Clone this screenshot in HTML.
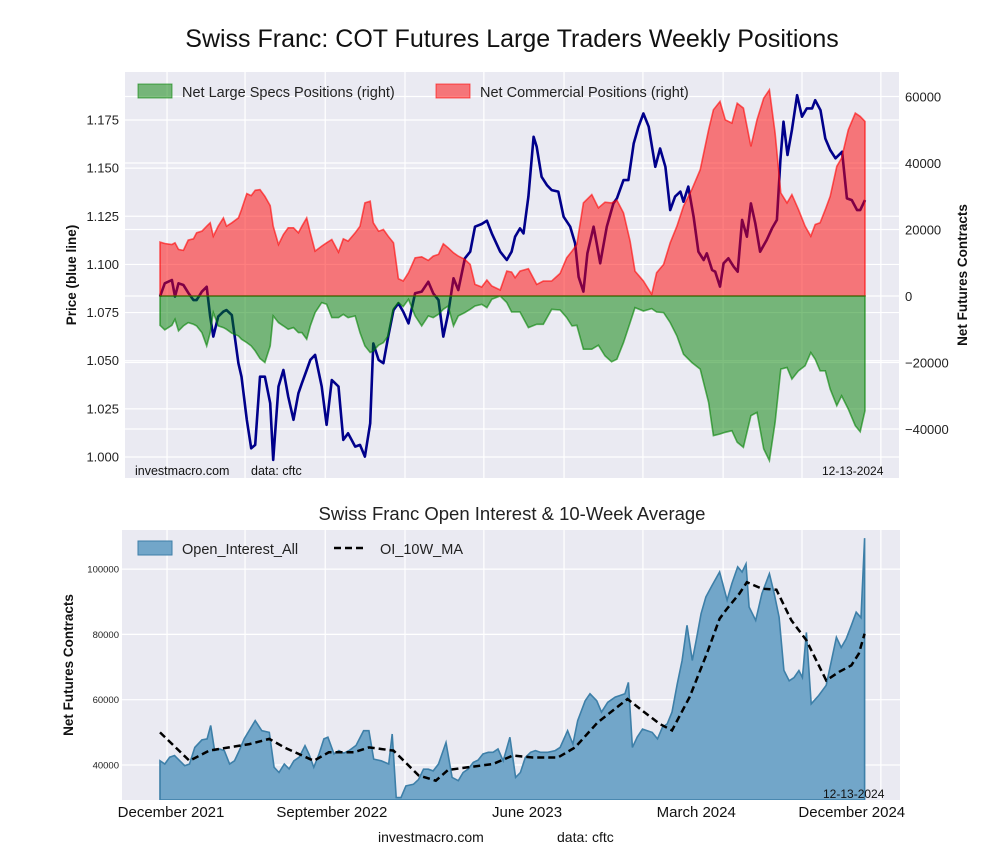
<!DOCTYPE html>
<html><head><meta charset="utf-8"><style>
body{margin:0;background:#fff;}
svg text{font-family:"Liberation Sans",Arial,sans-serif;}
</style></head><body>
<svg id="chart" width="1000" height="860" viewBox="0 0 1000 860" xmlns="http://www.w3.org/2000/svg">
<defs>
<clipPath id="clipTop"><rect x="125" y="72" width="774" height="406"/></clipPath>
<clipPath id="clipBot"><rect x="122" y="530" width="778" height="270"/></clipPath>
</defs>
<text x="512" y="47" font-size="25" text-anchor="middle" fill="#111">Swiss Franc: COT Futures Large Traders Weekly Positions</text>
<rect x="125" y="72" width="774" height="406" fill="#eaeaf2"/>
<g id="topGrid"></g>
<g id="topSeries" clip-path="url(#clipTop)"></g>
<g id="topAxes"></g>
<g>
<rect x="138" y="84" width="34" height="14" fill="rgba(0,128,0,0.5)" stroke="rgba(0,128,0,0.6)"/>
<text x="182" y="97" font-size="14.5" fill="#222">Net Large Specs Positions (right)</text>
<rect x="436" y="84" width="34" height="14" fill="rgba(255,0,0,0.5)" stroke="rgba(255,0,0,0.6)"/>
<text x="480" y="97" font-size="14.5" fill="#222">Net Commercial Positions (right)</text>
</g>
<text x="135" y="475" font-size="12.5" fill="#111">investmacro.com</text>
<text x="251" y="475" font-size="12.5" fill="#111">data: cftc</text>
<text x="822" y="475" font-size="12" fill="#111">12-13-2024</text>
<text transform="translate(76,275) rotate(-90)" font-size="13.5" font-weight="bold" text-anchor="middle" fill="#111">Price (blue line)</text>
<text transform="translate(967,275) rotate(-90)" font-size="13.5" font-weight="bold" text-anchor="middle" fill="#111">Net Futures Contracts</text>

<text x="512" y="520" font-size="18.5" text-anchor="middle" fill="#222">Swiss Franc Open Interest &amp; 10-Week Average</text>
<rect x="122" y="530" width="778" height="270" fill="#eaeaf2"/>
<g id="botGrid"></g>
<g id="botSeries" clip-path="url(#clipBot)"></g>
<g id="botAxes"></g>
<g>
<rect x="138" y="541" width="34" height="14" fill="#72a6c9" stroke="#3d7fa8"/>
<text x="182" y="554" font-size="14.5" fill="#222">Open_Interest_All</text>
<line x1="334" y1="548" x2="366" y2="548" stroke="#000" stroke-width="2.5" stroke-dasharray="7,4"/>
<text x="380" y="554" font-size="14.5" fill="#222">OI_10W_MA</text>
</g>
<text x="823" y="798" font-size="12" fill="#111">12-13-2024</text>
<text transform="translate(73,665) rotate(-90)" font-size="13.5" font-weight="bold" text-anchor="middle" fill="#111">Net Futures Contracts</text>
<text x="378" y="842" font-size="14" fill="#111">investmacro.com</text>
<text x="557" y="842" font-size="14" fill="#111">data: cftc</text>
</svg>
<script>
// ---- data (weeks since mid-Nov 2021) ----
const posWeeks=[0,1.1,2.7,3.4,4.2,5.3,6.4,7.6,8.3,9.5,10.6,11.4,12.1,13.2,14.4,15.1,16.3,17.8,18.5,19.7,20.7,21.6,22.7,23.8,25.0,25.7,26.9,28.0,29.1,30.3,31.4,32.2,33.3,34.1,35.2,36.7,37.8,39.0,40.5,41.6,42.7,44.3,45.4,46.5,47.7,48.4,49.6,50.7,51.8,53.0,54.1,55.2,56.4,57.9,59.4,60.9,62.0,63.2,64.3,65.4,66.6,67.7,69.2,70.4,71.5,73.0,74.2,75.3,77.2,
78.7,79.8,80.6,81.7,83.6,85.5,87.0,88.9,90.8,92.3,93.5,94.6,96.1,98.0,99.5,101.0,102.5,103.7,105.2,106.7,107.8,109.7,111.6,112.7,114.3,115.8,117.3,118.8,120.7,122.6,124.5,125.6,127.1,128.3,129.8,131.0,132.4,134.1,135.5,137.0,138.3,139.6,140.9,142.3,143.4,144.9,146.4,147.7,148.7,149.8,151.0,152.1,153.6,154.7,156.2,157.8,158.9,160];
const commercialK=[16.2,15.8,15.5,16.0,14.0,13.7,16.8,17.2,19.0,19.5,21.0,22.0,18.0,21.0,23.5,21.0,22.0,23.5,26.0,30.8,30.2,31.8,32.0,30.0,27.2,21.0,15.5,18.5,20.5,20.5,19.0,21.0,23.5,19.0,13.5,15.0,16.0,17.0,13.2,17.2,16.5,19.0,21.0,28.0,28.5,22.0,19.5,20.0,18.0,16.0,5.2,4.5,7.0,11.5,11.8,10.7,12.0,12.5,15.7,14.5,13.0,12.0,11.0,9.5,3.5,2.7,4.8,3.0,1.8,
7.5,7.2,5.5,7.5,8.2,3.5,4.5,4.5,6.8,11.5,13.5,15.5,28.0,30.5,26.5,28.2,28.0,28.8,25.0,16.5,7.5,4.5,0.5,7.0,9.5,16.0,21.0,27.0,32.0,38.0,50.0,56.0,58.5,53.0,52.0,58.0,56.5,45.0,53.0,59.5,62.0,49.0,31.0,28.0,30.5,26.0,21.0,18.0,21.5,22.0,26.0,30.0,39.0,41.5,50.0,55.0,54.0,52.5];
const specsK=[-8.8,-10.2,-8.8,-7.0,-10.5,-9.0,-8.0,-8.5,-9.0,-11.0,-15.0,-11.0,-5.0,-9.0,-9.5,-10.0,-11.2,-12.0,-13.0,-14.0,-15.0,-16.5,-18.8,-20.0,-15.0,-6.0,-8.0,-9.0,-10.0,-9.5,-11.0,-11.0,-13.0,-9.0,-5.0,-2.0,-2.5,-6.5,-6.5,-5.5,-6.5,-6.0,-11.0,-15.0,-17.0,-16.5,-14.8,-14.0,-12.0,-3.8,-2.0,-3.2,-1.0,-6.0,-9.0,-6.0,-6.5,-5.5,-4.0,-3.0,-9.0,-6.0,-5.0,-4.0,-3.0,-2.5,-3.5,-1.0,0.0,
-2.0,-4.8,-4.8,-4.8,-9.5,-8.5,-8.5,-4.0,-4.2,-6.5,-9.0,-8.8,-16.0,-16.0,-14.8,-18.0,-19.8,-19.0,-14.0,-8.0,-3.5,-4.5,-3.8,-4.8,-5.0,-8.0,-12.0,-17.5,-20.0,-22.0,-32.0,-42.0,-41.5,-41.0,-40.5,-44.0,-45.5,-36.0,-35.0,-46.0,-49.5,-38.0,-22.0,-21.5,-25.0,-22.5,-21.0,-17.0,-19.0,-22.5,-22.5,-28.0,-33.0,-30.0,-34.0,-39.0,-40.8,-34.5];
const priceWeeks=posWeeks.slice(0,69).concat([78.7,79.8,80.6,81.7,82.5,83.6,84.8,85.5,86.6,87.8,88.9,90.4,91.6,93.1,94.2,95.0,96.1,97.0,98.4,99.1,99.9,101.4,102.9,103.7,105.2,106.3,107.5,108.6,109.7,110.9,112.4,113.5,114.7,115.8,116.9,118.1,118.8,119.9,121.1,122.2,123.4,124.1,125.3,126.0,127.1,127.9,129.0,130.2,131.1,132.1,133.2,134.1,135.1,136.2,137.7,138.9,140.0,140.8,141.5,142.4,143.4,144.6,145.7,146.8,148.0,148.7,149.9,151.0,152.1,153.3,154.8,155.9,157.0,158.2,158.9,160]);
const price=[1.0833,1.0902,1.0919,1.0833,1.0902,1.0893,1.0853,1.0815,1.0815,1.0859,1.0884,1.0729,1.0625,1.0729,1.0755,1.0763,1.0737,1.0487,1.0417,1.0193,1.0045,1.0063,1.0417,1.0417,1.0279,0.9985,1.0366,1.0452,1.0314,1.0193,1.0331,1.0383,1.0452,1.0504,1.0530,1.0366,1.0167,1.0400,1.0366,1.0089,1.0123,1.0054,1.0063,1.0002,1.0175,1.0590,1.0504,1.0487,1.0625,1.0763,1.0798,1.0755,1.0694,1.0850,1.0859,1.0910,1.0850,1.0815,1.0625,1.0746,1.0928,1.0867,1.1032,1.1066,1.1196,1.1210,1.1227,1.1161,1.1066,
1.1023,1.1066,1.1144,1.1187,1.1161,1.1352,1.1663,1.1611,1.1455,1.1412,1.1386,1.1378,1.1248,1.1196,1.1109,1.0936,1.0859,1.1058,1.1196,1.1109,1.1006,1.1196,1.1317,1.1343,1.1438,1.1438,1.1628,1.1715,1.1784,1.1715,1.1507,1.1602,1.1507,1.1282,1.1352,1.1378,1.1326,1.1404,1.1248,1.1066,1.1023,1.1058,1.0971,1.0962,1.0885,1.1006,1.1032,1.0988,1.0962,1.1231,1.1144,1.1317,1.1213,1.1066,1.1127,1.1187,1.1231,1.1542,1.1741,1.1568,1.1698,1.1879,1.1767,1.1810,1.1810,1.1853,1.1801,1.1654,1.1594,1.1551,1.1585,1.1343,1.1334,1.1282,1.1282,1.1334];
const oiWeeks=[0,1.1,2.2,3.3,4.5,5.6,6.7,7.9,9.5,10.7,11.5,12.4,13.5,14.6,15.8,16.9,18.0,19.1,21.6,23.1,24.8,25.9,27.0,28.2,29.3,30.4,31.6,32.9,33.8,34.9,36.1,37.2,38.1,39.5,40.6,41.7,42.9,44.5,46.2,47.4,48.5,50.2,51.9,52.7,53.6,54.7,55.8,57.5,58.7,59.8,60.9,62.0,63.2,64.9,66.3,67.7,68.8,69.9,71.1,72.2,73.3,74.5,75.6,76.7,77.9,79.4,80.7,81.8,82.9,84.1,85.2,86.3,88.0,89.7,90.8,92.5,93.7,94.8,96.5,97.6,99.1,100.2,101.6,103.3,104.4,105.5,106.3,107.2,108.3,109.5,110.6,111.7,112.9,114.0,115.1,116.2,117.4,118.5,119.6,120.8,121.7,122.8,123.9,125.3,127.0,128.7,129.8,131.1,132.1,133.0,133.7,135.2,136.6,138.3,139.4,140.5,141.6,142.8,143.9,145.0,145.8,146.7,147.8,149.5,151.2,153.5,154.6,155.7,156.9,158.0,159.1,159.9];
const openInterestK=[41.3,40.3,42.4,42.9,41.3,39.8,40.3,45.4,47.7,48.0,52.1,44.4,44.9,44.4,40.3,41.3,44.4,48.0,53.6,50.5,50.0,39.3,37.7,40.3,38.8,41.3,42.4,45.9,43.4,39.3,43.4,48.0,48.5,43.4,44.4,43.6,44.4,46.0,50.5,50.5,41.8,41.3,40.3,49.5,30.0,30.0,33.6,34.1,35.6,38.7,38.7,38.2,40.3,46.9,36.2,35.2,37.7,38.7,40.8,41.5,43.4,43.9,43.9,44.9,41.3,48.5,36.2,37.7,42.3,43.9,44.4,43.9,43.9,44.4,45.4,50.5,46.4,53.6,59.7,61.8,59.7,56.2,59.2,60.8,61.3,61.8,65.3,45.4,48.5,51.0,50.5,50.0,48.0,51.5,52.6,56.2,64.9,72.0,82.8,72.0,78.2,86.4,91.5,95.0,99.1,90.5,95.6,100.7,99.1,101.6,88.4,84.3,92.5,98.6,92.5,85.3,69.0,65.8,66.8,68.9,66.8,80.6,58.7,61.3,64.4,79.1,76.0,78.6,82.7,86.8,85.1,109.5];
const maWeeks=[0,6.7,11.2,20.3,24.8,28.2,34.9,38.3,44.0,47.4,53.0,58.7,62.6,65.4,69.9,75.6,80.1,84.6,90.3,94.2,99.3,106.1,109.5,113.4,116.2,120.2,124.1,127.0,128.7,131.5,133.2,136.6,139.9,143.3,146.7,151.2,154.1,156.9,158.6,159.9];
const ma10K=[50.0,41.3,44.4,46.4,48.0,45.4,41.3,43.9,43.9,45.4,44.4,36.8,35.2,38.5,39.3,40.3,42.9,42.3,42.3,45.4,53.0,60.2,56.6,52.6,50.6,60.8,74.1,84.8,87.9,92.5,96.0,94.0,93.7,84.3,78.2,65.9,68.5,70.5,74.1,80.2];
const priceTicks=[1.000,1.025,1.050,1.075,1.100,1.125,1.150,1.175];
const posTicks=[-40000,-20000,0,20000,40000,60000];
const oiTicks=[40000,60000,80000,100000];
const xTickLabels=["December 2021","September 2022","June 2023","March 2024","December 2024"];
const xTickWeeks=[2.5,39,83.3,121.7,157];
const gridWeeks=[1.6,19.3,37.5,55.6,73.5,91.7,109.6,127.8,145.7,163.6];

// ---- scales ----
const xS=w=>160+w*705/160;
const yP=p=>457-(p-1.0)/0.175*337;
const yR=v=>296-v/20000*66.5;
const yB=v=>765-(v-40000)/20000*65.3;
const NS="http://www.w3.org/2000/svg";
function mk(tag,attrs,parent){const e=document.createElementNS(NS,tag);for(const k in attrs)e.setAttribute(k,attrs[k]);parent.appendChild(e);return e;}
const topGrid=document.getElementById('topGrid'),topSeries=document.getElementById('topSeries'),topAxes=document.getElementById('topAxes');
const botGrid=document.getElementById('botGrid'),botSeries=document.getElementById('botSeries'),botAxes=document.getElementById('botAxes');

gridWeeks.forEach(w=>{const x=xS(w);
 let l=mk('line',{x1:x,x2:x,y1:72,y2:478,stroke:'#fff','stroke-width':1.2},topGrid);
 
 
 let l2=mk('line',{x1:x,x2:x,y1:530,y2:800,stroke:'#fff','stroke-width':1.2},botGrid);
 
 
});
priceTicks.forEach(p=>{const y=yP(p);
 let l=mk('line',{x1:125,x2:899,y1:y,y2:y,stroke:'#fff','stroke-width':1.2},topGrid);
 
 
 let t=mk('text',{x:119,y:y+4.5,'font-size':13,'text-anchor':'end',fill:'#222'},topAxes);t.textContent=p.toFixed(3);
 
 
});
posTicks.forEach(v=>{const y=yR(v);
 let l=mk('line',{x1:125,x2:899,y1:y,y2:y,stroke:'#fff','stroke-width':1.2},topGrid);
 
 
 let t=mk('text',{x:905,y:y+5,'font-size':13,fill:'#222'},topAxes);t.textContent=(v<0?'\u2212':'')+Math.abs(v);
 
 
});
oiTicks.forEach(v=>{const y=yB(v);
 let l=mk('line',{x1:122,x2:900,y1:y,y2:y,stroke:'#fff','stroke-width':1.2},botGrid);
 
 
 let t=mk('text',{x:119,y:y+3.5,'font-size':9.5,'text-anchor':'end',fill:'#222'},botAxes);t.textContent=v;
 
 
});
xTickLabels.forEach((s,i)=>{
 let t=mk('text',{x:xS(xTickWeeks[i]),y:817,'font-size':15,'text-anchor':'middle',fill:'#111'},botAxes);t.textContent=s;
 
 
});

function linePts(ws,vs,fy){return ws.map((w,i)=>xS(w).toFixed(1)+','+fy(vs[i]).toFixed(1)).join(' ');}
function areaPts(ws,vs,fy,base){return xS(ws[0]).toFixed(1)+','+base+' '+linePts(ws,vs,fy)+' '+xS(ws[ws.length-1]).toFixed(1)+','+base;}

let pl=mk('polyline',{points:linePts(priceWeeks,price,yP),fill:'none',stroke:'#00008b','stroke-width':2.6,'stroke-linejoin':'round'},topSeries);


const z=yR(0).toFixed(1);
let ra=mk('polygon',{points:areaPts(posWeeks,commercialK.map(v=>v*1000),yR,z),fill:'rgba(255,0,0,0.5)',stroke:'rgba(255,0,0,0.6)','stroke-width':1.6},topSeries);


let ga=mk('polygon',{points:areaPts(posWeeks,specsK.map(v=>v*1000),yR,z),fill:'rgba(0,128,0,0.5)',stroke:'rgba(0,128,0,0.6)','stroke-width':1.6},topSeries);



let oa=mk('polygon',{points:areaPts(oiWeeks,openInterestK.map(v=>v*1000),yB,800),fill:'#72a6c9',stroke:'#3d7fa8','stroke-width':1.6},botSeries);


let ml=mk('polyline',{points:linePts(maWeeks,ma10K.map(v=>v*1000),yB),fill:'none',stroke:'#000','stroke-width':2.5,'stroke-dasharray':'7,4'},botSeries);


</script>
</body></html>
